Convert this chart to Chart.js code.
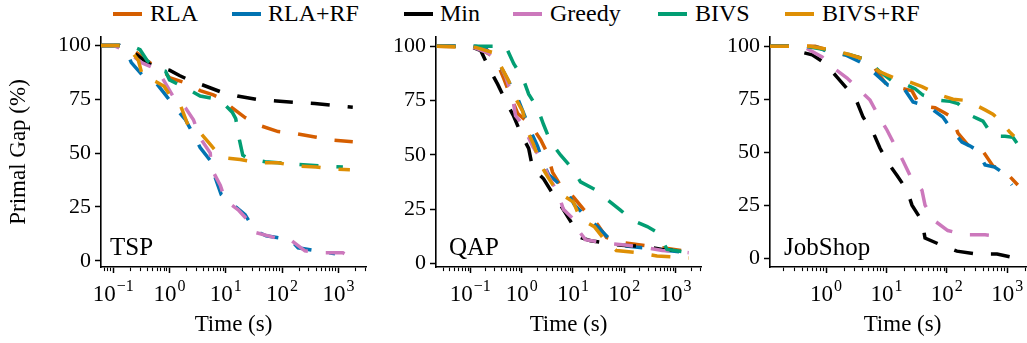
<!DOCTYPE html>
<html>
<head>
<meta charset="utf-8">
<script src="https://cdn.jsdelivr.net/npm/chart.js@4"></script>
<style>
  html, body { margin: 0; padding: 0; background: #fff; overflow: hidden; }
  #wrap { position: relative; width: 1027px; height: 343px; overflow: hidden; }
  canvas { position: absolute; top: 0; }
  .lg-line { position: absolute; top: 12px; width: 29px; height: 4px; }
  .lg-text { position: absolute; top: 0; line-height: 28px; font: 24px "Liberation Serif", "DejaVu Serif", serif; color: #000; white-space: nowrap; }
</style>
</head>
<body>
<div id="wrap">
  <div id="legend"></div>
  <canvas id="tsp" width="370" height="343" style="left:0px"></canvas>
  <canvas id="qap" width="335" height="343" style="left:375px"></canvas>
  <canvas id="job" width="330" height="343" style="left:712px"></canvas>
</div>
<script>
"use strict";

const FONT = '"Liberation Serif", "DejaVu Serif", serif';

// legend / series styling
const seriesNames = ['RLA', 'RLA+RF', 'Min', 'Greedy', 'BIVS', 'BIVS+RF'];
const seriesColors = ['#D55E00', '#0173B2', '#000000', '#CC78BC', '#029E73', '#DE8F05'];
const legendLineX = [113, 232, 404, 513, 658, 785];
const legendTextX = [150, 268, 440, 550, 695, 822];

const yTicks = [0, 25, 50, 75, 100];

// TSP: [time (s), primal gap (%)]
const tspRla = [[0.06,100],[0.15,100],[0.25,97],[0.5,91],[0.8,88],[1.0,85],[2.0,82.5],[3.5,79],[6,77],[8,75.5],[13,71],[22,66.5],[38,63],[85,60],[177,59],[384,57.5],[800,56],[1800,55.3]];
const tspRlaRf = [[0.06,100],[0.13,100],[0.17,97.5],[0.21,92],[0.32,86.5],[0.6,82],[0.85,77],[1.28,71],[1.92,65.5],[2.66,58.6],[3.5,52.6],[5.3,46.5],[6.5,38.6],[8.3,30.7],[13.5,26],[22,21.4],[33,14],[52,11.6],[140,9.8],[192,6],[400,4.6],[870,3.3]];
const tspMin = [[0.06,100],[0.13,100],[0.25,96],[0.4,92],[0.5,90.5],[1.0,88.5],[1.5,86],[2.2,84],[4,81.5],[8,78.5],[16,76.5],[37,74.8],[80,74.2],[180,73.5],[380,73],[880,72],[1800,71.3]];
const tspGreedy = [[0.06,100],[0.1,100],[0.17,97.6],[0.32,92],[0.59,89],[0.78,84],[1.18,76],[1.92,71],[2.66,65.5],[3.5,57],[5.3,50],[5.5,43],[8,35],[9.8,28],[16.6,23.7],[25,18.6],[34.7,13],[75,10.7],[140,9.8],[254,4.6],[530,3.7],[1200,3.7],[1700,1.4]];
const tspBivs = [[0.06,100],[0.2,100],[0.3,98],[0.4,93],[0.6,89],[0.85,88],[1.0,84],[2,80],[3.5,76.5],[7,75],[10,72],[13,69],[15,66],[17.5,56],[20,49],[25,47.5],[50,46],[150,45],[500,44],[1200,43.5]];
const tspBivsRf = [[0.06,100],[0.15,100],[0.2,98],[0.28,93],[0.33,86],[0.59,83],[0.8,81],[1.2,74],[1.6,71.5],[2.2,62],[3.5,59.5],[5.3,54],[8.3,48],[18,47],[35,45.6],[85,45.5],[170,44],[400,43.5],[870,42.5],[1600,42.3]];

// QAP
const qapRla = [[0.022,100],[0.14,99.5],[0.25,96],[0.34,92],[0.45,85],[0.61,77],[0.84,69],[1.5,64],[2.34,57],[3.2,50.6],[4,42],[5.7,36],[10.2,30.6],[16,25],[30,18],[45,12],[104,9.5],[320,8],[1800,5.5]];
const qapRlaRf = [[0.022,100],[0.128,100],[0.2,99],[0.36,92],[0.45,88],[0.84,76],[1.1,69],[1.5,61],[2.04,54],[2.67,46],[3.34,41],[7.2,34],[10.7,27],[19,21],[30,17],[53,11],[84,9.5],[109,8],[435,6.5],[1800,5]];
const qapMin = [[0.022,100],[0.1,100],[0.16,98],[0.23,90],[0.34,82.6],[0.49,74.7],[0.7,67.8],[0.96,60],[1.37,53],[1.63,44],[2.67,39],[4.17,31.6],[5.7,27],[9.8,18],[14,12],[22,10.5],[87,8.4],[223,8],[550,6.5],[1800,5.5]];
const qapGreedy = [[0.022,100],[0.1,100],[0.22,97],[0.39,91],[0.49,86],[0.67,76],[0.76,68],[1.05,64],[1.63,54],[2.56,47],[3.34,40],[5,33],[6.5,25],[10.2,20.4],[11.2,17],[17.5,11],[41,9.5],[104,8.5],[234,7.5],[550,6],[1800,5]];
const qapBivs = [[0.022,100],[0.49,100],[0.7,92],[1.05,85.5],[1.37,78],[2.04,71.5],[2.67,64],[3.66,56],[5.7,50],[9.8,43.6],[14,37.6],[27,34],[49,29],[84,24.6],[142,20],[280,17],[460,14],[680,6.5],[1800,5]];
const qapBivsRf = [[0.022,100],[0.128,99.5],[0.29,97],[0.39,91],[0.56,84],[0.76,76],[1.05,70],[1.3,61],[1.7,55],[2.34,45.5],[3.2,40],[5,33],[10.2,28.3],[14,20.5],[26,17],[41,11],[70,6],[187,5],[435,3.5],[1800,2.5]];

// JobShop
const jobRla = [[0.118,100],[0.66,100],[1.16,98],[2.06,96],[3.4,95],[5.8,92],[7,88],[10.2,81.7],[13.9,81],[26.5,79],[36,72],[64,71],[93,68.5],[121,66.6],[153,59],[225,53.4],[291,52.5],[397,50.5],[580,43.5],[760,42],[990,40],[1500,34.5]];
const jobRlaRf = [[0.118,100],[0.37,100],[0.74,99.5],[1.16,97],[2.06,96],[3.65,92.6],[6,88],[10.6,81.7],[13.9,81],[18.8,80.8],[27.6,73.7],[45,72],[52.6,71],[86,66.6],[121,60.5],[178,54.8],[240,53],[316,51],[430,44],[620,43],[820,40.6],[1200,34.5]];
const jobMin = [[0.118,100],[0.33,100],[0.42,97],[0.59,96],[0.96,92],[1.52,85.5],[2.23,80],[3.26,73.7],[4.1,66.6],[6,59.5],[7.8,52],[10.6,45],[15,39],[22,32],[26.5,25],[38.8,17.5],[43.6,9.5],[83,6],[147,3.3],[316,1.9],[680,1.9],[1250,0.3]];
const jobGreedy = [[0.118,100],[0.3,100],[0.48,99],[0.86,95],[1.3,90],[2.23,85],[3.4,80],[5.35,74.6],[7.3,67.5],[10.2,60.5],[13.9,53],[18.8,46],[24.6,39],[38.8,32],[43.6,25],[63.5,17.5],[104,13],[200,11],[430,11],[850,10]];
const jobBivs = [[0.118,100],[0.45,100],[1.16,98],[2.5,96],[4.8,93.5],[7.8,88],[12.4,83.6],[21.9,81.7],[29.7,80],[40,77],[71,74.6],[113,74],[153,73],[241,67.5],[316,66],[397,64.7],[580,57.6],[920,57.5],[1250,57],[1750,51]];
const jobBivsRf = [[0.118,100],[0.54,100],[1.41,98],[2.5,96],[4.1,94],[5.35,91],[7.8,88],[10.2,86.5],[16.7,84],[21.9,83.6],[38.8,81],[69,77.5],[127,75],[200,74.5],[241,73.7],[430,70],[580,68],[760,65],[1100,59.5],[1300,57.5]];

// build legend
const legendEl = document.getElementById('legend');
seriesNames.forEach((name, i) => {
  const ln = document.createElement('div');
  ln.className = 'lg-line';
  ln.style.left = legendLineX[i] + 'px';
  ln.style.background = seriesColors[i];
  legendEl.appendChild(ln);
  const tx = document.createElement('div');
  tx.className = 'lg-text';
  tx.style.left = legendTextX[i] + 'px';
  tx.textContent = name;
  legendEl.appendChild(tx);
});

// log ticks at 1..9 x 10^k inside [min, max]
function logTicks(scale) {
  const min = scale.min, max = scale.max;
  const ticks = [];
  for (let e = Math.floor(Math.log10(min)); e <= Math.ceil(Math.log10(max)); e++) {
    for (let m = 1; m < 10; m++) {
      const v = m * Math.pow(10, e);
      if (v >= min && v <= max) ticks.push({ value: v, major: m === 1 });
    }
  }
  scale.ticks = ticks;
}

// 10^k labels and the panel name
const decorations = {
  id: 'decorations',
  afterDraw(chart, args, opts) {
    const { ctx, chartArea } = chart;
    const xs = chart.scales.x;
    ctx.save();
    ctx.fillStyle = '#000';
    ctx.textBaseline = 'alphabetic';
    ctx.textAlign = 'left';
    xs.ticks.forEach(t => {
      if (!t.major) return;
      const px = xs.getPixelForValue(t.value);
      const e = Math.round(Math.log10(t.value));
      const exp = e < 0 ? '\u2212' + (-e) : String(e);
      ctx.font = '23px ' + FONT;
      const wb = ctx.measureText('10').width;
      ctx.font = '16px ' + FONT;
      const we = ctx.measureText(exp).width;
      const x0 = px - (wb + we + 1) / 2;
      ctx.font = '23px ' + FONT;
      ctx.fillText('10', x0, 301);
      ctx.font = '16px ' + FONT;
      ctx.fillText(exp, x0 + wb + 1, 291);
    });
    ctx.font = '25px ' + FONT;
    ctx.fillText(opts.text, chartArea.left + opts.dx, 255);
    ctx.restore();
  },
};

function panel(id, data, o) {
  const datasets = data.map((arr, i) => ({
    label: seriesNames[i],
    data: arr.map(([x, y]) => ({ x, y })),
    borderColor: seriesColors[i],
    borderWidth: 3.5,
    borderDash: [19, 18],
    borderCapStyle: 'butt',
    pointRadius: 0,
    fill: false,
    tension: 0,
    order: 5 - i,
  }));

  return new Chart(document.getElementById(id), {
    type: 'line',
    data: { datasets },
    plugins: [decorations],
    options: {
      responsive: false,
      animation: false,
      devicePixelRatio: 1,
      layout: { padding: { top: 37, bottom: 0, left: 0, right: o.padRight } },
      plugins: {
        legend: { display: false },
        tooltip: { enabled: false },
        decorations: { text: o.label, dx: o.labelDx },
      },
      scales: {
        x: {
          type: 'logarithmic',
          min: o.xMin,
          max: o.xMax,
          afterBuildTicks: logTicks,
          afterFit: (s) => { s.height = 76; },
          ticks: { autoSkip: false, maxRotation: 0, minRotation: 0, callback: () => '' },
          grid: {
            drawOnChartArea: false,
            drawTicks: true,
            tickLength: 6,
            tickColor: '#000',
            tickWidth: (c) => (c.tick && c.tick.major ? 1.5 : 1.1),
            tickBorderDash: (c) => (c.tick && c.tick.major ? [] : [3.5, 20]),
          },
          border: { display: true, color: '#000', width: 1.6 },
          title: {
            display: true,
            text: 'Time (s)',
            color: '#000',
            font: { family: FONT, size: 23 },
            padding: { top: 0, bottom: 4 },
          },
        },
        y: {
          min: o.yMin,
          max: o.yMax,
          afterBuildTicks: (s) => { s.ticks = yTicks.map(v => ({ value: v })); },
          afterFit: (s) => { s.width = o.yWidth; },
          ticks: { color: '#000', font: { family: FONT, size: 22 }, padding: 4 },
          grid: { drawOnChartArea: false, tickLength: 6, tickColor: '#000', tickWidth: 1.5 },
          border: { display: true, color: '#000', width: 1.6 },
          title: {
            display: o.yTitle,
            text: 'Primal Gap (%)',
            color: '#000',
            font: { family: FONT, size: 23 },
            padding: { top: 5, bottom: 0 },
          },
        },
      },
    },
  });
}

panel('tsp', [tspRla, tspRlaRf, tspMin, tspGreedy, tspBivs, tspBivsRf], {
  xMin: 0.0607, xMax: 3090, yMin: -2.9, yMax: 103.9,
  yWidth: 101, padRight: 4, yTitle: true, label: 'TSP', labelDx: 9,
});
panel('qap', [qapRla, qapRlaRf, qapMin, qapGreedy, qapBivs, qapBivsRf], {
  xMin: 0.0214, xMax: 3126, yMin: -1.6, yMax: 104.3,
  yWidth: 61, padRight: 9, yTitle: false, label: 'QAP', labelDx: 13,
});
panel('job', [jobRla, jobRlaRf, jobMin, jobGreedy, jobBivs, jobBivsRf], {
  xMin: 0.118, xMax: 2890, yMin: -4.2, yMax: 104.4,
  yWidth: 58, padRight: 7, yTitle: false, label: 'JobShop', labelDx: 14,
});
</script>
</body>
</html>
